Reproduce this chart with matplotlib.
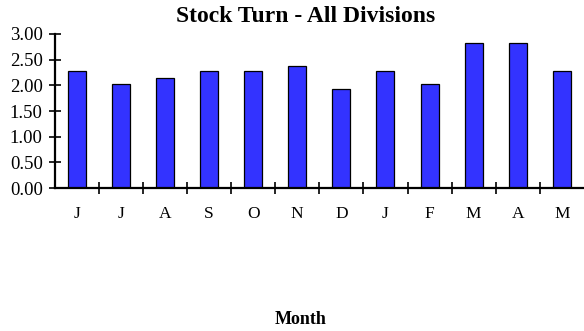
import matplotlib
matplotlib.use("Agg")
from matplotlib import pyplot as plt
import numpy as np

months = ['J', 'J', 'A', 'S', 'O', 'N', 'D', 'J', 'F', 'M', 'A', 'M']
stock_turn = [2.27, 2.03, 2.15, 2.27, 2.27, 2.38, 1.92, 2.27, 2.03, 2.82, 2.82, 2.27]
yticks = [0.0, 0.5, 1.0, 1.5, 2.0, 2.5, 3.0]

plt.rcParams['font.family'] = 'Liberation Serif'

W, H = 584, 331
fig = plt.figure(figsize=(W / 100, H / 100), dpi=100)
ax = fig.add_axes([54.5 / W, 1 - 188 / H, (584 - 54.5) / W, (188 - 34) / H])

x = np.arange(len(months))
ax.bar(x, stock_turn, width=0.41, color='#3333ff', edgecolor='black', linewidth=0.9)

ax.set_xlim(-0.5, len(months) - 0.5)
ax.set_ylim(0, 3.0)
ax.set_yticks(yticks)
ax.set_yticklabels(['%.2f' % v for v in yticks])

# boundary ticks, labels in the middle
ax.set_xticks(np.arange(0.5, len(months) - 1, 1.0))
ax.set_xticklabels([])
ax.set_xticks(x, minor=True)
ax.set_xticklabels(months, minor=True)
ax.tick_params(axis='x', which='major', direction='inout', length=9, width=1.2)
ax.tick_params(axis='x', which='minor', length=0, pad=13, labelsize=12.5)
ax.tick_params(axis='y', direction='inout', length=9, width=1.2, labelsize=13.5, pad=4)

for s in ['top', 'right']:
    ax.spines[s].set_visible(False)
for s in ['left', 'bottom']:
    ax.spines[s].set_linewidth(1.6)

fig.text(306 / W, 1 - 16 / H, 'Stock Turn - All Divisions', ha='center', va='center',
         fontsize=17, fontweight='bold')
fig.text(301 / W, 1 - 319 / H, 'Month', ha='center', va='center',
         fontsize=13, fontweight='bold')

fig.savefig('out.png', dpi=100)
